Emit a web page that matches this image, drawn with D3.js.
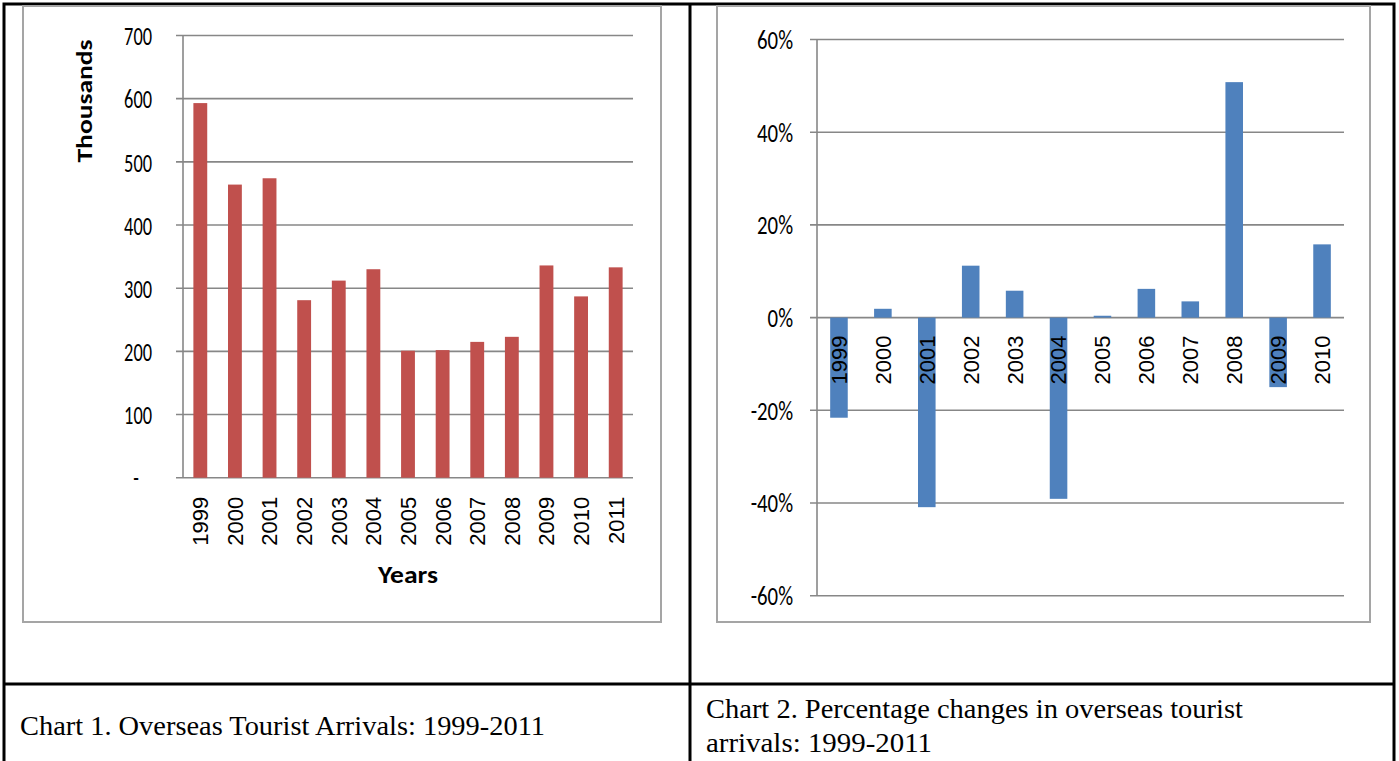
<!DOCTYPE html>
<html>
<head>
<meta charset="utf-8">
<script src="https://cdn.jsdelivr.net/npm/d3@7"></script>
<style>
  html, body { margin: 0; padding: 0; background: #fff; }
  svg { display: block; }
</style>
</head>
<body>
<svg id="page" width="1399" height="761"></svg>
<script>
// Overseas tourist arrivals (thousands), 1999-2011
const arrivalYears = ["1999","2000","2001","2002","2003","2004","2005","2006","2007","2008","2009","2010","2011"];
const arrivals = [593, 464, 474, 281, 312, 330, 201, 202, 215, 223, 336, 287, 333];
const arrivalTicks = [0, 100, 200, 300, 400, 500, 600, 700];

// Year-on-year percentage change in arrivals
const changeYears = ["1999","2000","2001","2002","2003","2004","2005","2006","2007","2008","2009","2010"];
const changes = [-21.6, 1.9, -40.9, 11.2, 5.8, -39.1, 0.4, 6.2, 3.5, 50.8, -15.0, 15.8];
const changeTicks = [-60, -40, -20, 0, 20, 40, 60];

const captions = [
  ["Chart 1. Overseas Tourist Arrivals: 1999-2011"],
  ["Chart 2. Percentage changes in overseas tourist", "arrivals: 1999-2011"]
];

const svg = d3.select("#page");
const GRID = "#878787";
const FRAME = "#a5a5a5";
const tickFont = "Carlito, Lato, 'Liberation Sans Narrow', sans-serif";
const catFont = "'Liberation Sans', Arial, sans-serif";

// ---------- table borders ----------
const table = svg.append("g").attr("stroke", "#000").attr("stroke-width", 3).attr("fill", "none");
table.append("rect").attr("x", 4).attr("y", 4).attr("width", 1390).attr("height", 800);
table.append("line").attr("x1", 690).attr("x2", 690).attr("y1", 4).attr("y2", 800);
table.append("line").attr("x1", 4).attr("x2", 1394).attr("y1", 684).attr("y2", 684);

// ---------- chart frames ----------
svg.append("rect").attr("x", 23).attr("y", 6).attr("width", 638).attr("height", 616)
  .attr("fill", "#fff").attr("stroke", FRAME).attr("stroke-width", 2);
svg.append("rect").attr("x", 717).attr("y", 6).attr("width", 653).attr("height", 616)
  .attr("fill", "#fff").attr("stroke", FRAME).attr("stroke-width", 2);

// ---------- Chart 1 ----------
{
  const g = svg.append("g");
  const x = d3.scaleBand().domain(arrivalYears).range([183, 633]).paddingInner(0.6).paddingOuter(0.3);
  const y = d3.scaleLinear().domain([0, 700]).range([477.7, 35.5]);

  g.selectAll("line.grid").data(arrivalTicks).join("line")
    .attr("x1", 176).attr("x2", 633)
    .attr("y1", d => y(d)).attr("y2", d => y(d))
    .attr("stroke", GRID).attr("stroke-width", 1.6);
  g.append("line").attr("x1", 183).attr("x2", 183).attr("y1", y(700)).attr("y2", y(0))
    .attr("stroke", GRID).attr("stroke-width", 1.6);

  g.selectAll("rect.bar").data(arrivals).join("rect")
    .attr("x", (d, i) => x(arrivalYears[i]))
    .attr("width", x.bandwidth())
    .attr("y", d => y(d))
    .attr("height", d => y(0) - y(d))
    .attr("fill", "#c0504d");

  g.selectAll("text.ytick").data(arrivalTicks).join("text")
    .attr("transform", d => `translate(${d === 0 ? 139 : 152},${y(d)}) scale(0.68,1)`)
    .attr("dy", "0.36em")
    .attr("text-anchor", "end")
    .attr("font-family", tickFont).attr("font-size", 27).attr("fill", "#000")
    .text(d => d === 0 ? "-" : d);

  g.selectAll("text.xtick").data(arrivalYears).join("text")
    .attr("transform", d => `translate(${x(d) + x.bandwidth() / 2},${y(0) + 19}) rotate(-90)`)
    .attr("dy", "0.36em")
    .attr("text-anchor", "end")
    .attr("font-family", catFont).attr("font-size", 22).attr("fill", "#000")
    .text(d => d);

  g.append("text")
    .attr("transform", `translate(84,101) rotate(-90)`)
    .attr("dy", "0.36em").attr("text-anchor", "middle")
    .attr("font-family", tickFont).attr("font-weight", "bold").attr("font-size", 23)
    .attr("textLength", 123).attr("lengthAdjust", "spacingAndGlyphs")
    .text("Thousands");

  g.append("text")
    .attr("x", 408).attr("y", 583).attr("text-anchor", "middle")
    .attr("font-family", tickFont).attr("font-weight", "bold").attr("font-size", 24)
    .attr("textLength", 60).attr("lengthAdjust", "spacingAndGlyphs")
    .text("Years");
}

// ---------- Chart 2 ----------
{
  const g = svg.append("g");
  const x = d3.scaleBand().domain(changeYears).range([817, 1344]).paddingInner(0.6).paddingOuter(0.3);
  const y = d3.scaleLinear().domain([-60, 60]).range([595.7, 39.5]);

  g.selectAll("line.grid").data(changeTicks).join("line")
    .attr("x1", 810).attr("x2", 1344)
    .attr("y1", d => y(d)).attr("y2", d => y(d))
    .attr("stroke", GRID).attr("stroke-width", 1.6);
  g.append("line").attr("x1", 817).attr("x2", 817).attr("y1", y(60)).attr("y2", y(-60))
    .attr("stroke", GRID).attr("stroke-width", 1.6);

  g.selectAll("rect.bar").data(changes).join("rect")
    .attr("x", (d, i) => x(changeYears[i]))
    .attr("width", x.bandwidth())
    .attr("y", d => y(Math.max(0, d)))
    .attr("height", d => Math.abs(y(d) - y(0)))
    .attr("fill", "#4f81bd");

  g.selectAll("text.ytick").data(changeTicks).join("text")
    .attr("transform", d => `translate(793,${y(d)}) scale(0.8,1)`)
    .attr("dy", "0.36em")
    .attr("text-anchor", "end")
    .attr("font-family", tickFont).attr("font-size", 26).attr("fill", "#000")
    .text(d => d + "%");

  g.selectAll("text.xtick").data(changeYears).join("text")
    .attr("transform", d => `translate(${x(d) + x.bandwidth() / 2},${y(0) + 18}) rotate(-90)`)
    .attr("dy", "0.36em")
    .attr("text-anchor", "end")
    .attr("font-family", catFont).attr("font-size", 22).attr("fill", "#000")
    .text(d => d);
}

// ---------- captions ----------
const capFont = "'Liberation Serif', 'DejaVu Serif', serif";
svg.append("text").attr("x", 20).attr("y", 735)
  .attr("font-family", capFont).attr("font-size", 27).attr("fill", "#000")
  .attr("textLength", 525).attr("lengthAdjust", "spacingAndGlyphs")
  .text(captions[0][0]);
svg.append("text").attr("x", 706).attr("y", 718)
  .attr("font-family", capFont).attr("font-size", 27).attr("fill", "#000")
  .attr("textLength", 537).attr("lengthAdjust", "spacingAndGlyphs")
  .text(captions[1][0]);
svg.append("text").attr("x", 706).attr("y", 752)
  .attr("font-family", capFont).attr("font-size", 27).attr("fill", "#000")
  .attr("textLength", 226).attr("lengthAdjust", "spacingAndGlyphs")
  .text(captions[1][1]);
</script>
</body>
</html>
